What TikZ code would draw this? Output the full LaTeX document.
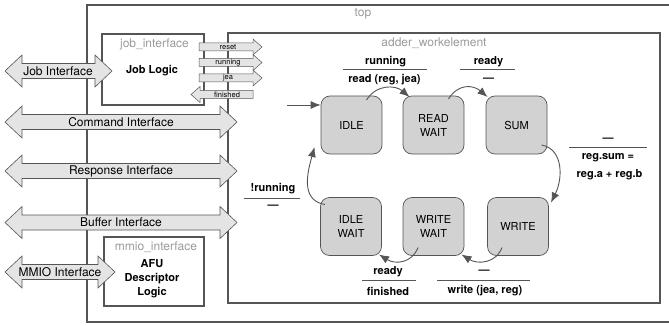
\documentclass[tikz,border=0pt]{standalone}
\usepackage{fontspec}
\setmainfont{TeX Gyre Heros}
\usetikzlibrary{arrows.meta}

\definecolor{edgecol}{HTML}{555555}
\definecolor{ifacefill}{HTML}{E4E4E4}
\definecolor{statefill}{HTML}{D2D2D2}
\definecolor{labelgray}{HTML}{9A9A9A}

% interface arrow with heads on both ends: left tip x, right tip x, centre y
\newcommand\dblarrow[3]{%
  \filldraw[iface] (#1,#3) -- ({#1+17},{#3-16}) -- ({#1+17},{#3-7.5})
    -- ({#2-17},{#3-7.5}) -- ({#2-17},{#3-16}) -- (#2,#3)
    -- ({#2-17},{#3+16}) -- ({#2-17},{#3+7.5}) -- ({#1+17},{#3+7.5})
    -- ({#1+17},{#3+16}) -- cycle;}
% narrow signal arrow: tail x, tip x, centre y (tip may point either way)
\newcommand\sigarrow[3]{%
  \pgfmathsetmacro\hd{(#2>#1)?9:-9}%
  \filldraw[sig] (#1,{#3-4}) -- ({#2-\hd},{#3-4}) -- ({#2-\hd},{#3-8})
    -- (#2,#3) -- ({#2-\hd},{#3+8}) -- ({#2-\hd},{#3+4})
    -- (#1,{#3+4}) -- cycle;}

\begin{document}
\begin{tikzpicture}[x=1pt,y=-1pt,
  box/.style={draw=edgecol, line width=1.1pt},
  iface/.style={draw=edgecol, fill=ifacefill, line width=0.6pt},
  sig/.style={draw=edgecol, fill=ifacefill, line width=0.5pt},
  ifacetext/.style={font=\fontsize{12}{13}\selectfont, inner sep=0pt},
  sigtext/.style={font=\fontsize{7.5}{8}\selectfont, inner sep=0pt},
  blocktitle/.style={font=\fontsize{12}{13}\selectfont, text=labelgray, inner sep=0pt},
  blocktext/.style={font=\fontsize{11}{14}\selectfont\bfseries, align=center, inner sep=0pt},
  state/.style={draw=edgecol, fill=statefill, line width=0.7pt, rounded corners=9pt,
    minimum width=61pt, minimum height=58pt, align=center,
    font=\fontsize{11}{14}\selectfont},
  cond/.style={font=\fontsize{11}{12}\selectfont\bfseries, inner sep=0pt},
  bar/.style={draw=edgecol, line width=0.7pt},
  trans/.style={draw=edgecol, line width=0.9pt, -{Latex[length=10pt,width=8pt]}},
]
\useasboundingbox (0,0) rectangle (669,326);
\begin{scope}
\clip (0,0) rectangle (669,326);

% hierarchy of blocks
\draw[box] (87,5) rectangle (690,322);
\node[blocktitle] (toplbl) at (363,14) {top};
\draw[box] (228,33) rectangle (660,303);
\node[blocktitle] (adderlbl) at (434,43.5) {adder\_workelement};
\draw[box] (102,34) rectangle (204,105);
\node[blocktitle] (joblbl) at (154.5,44.5) {job\_interface};
\node[blocktext] (joblogic) at (152,71) {Job Logic};
\draw[box] (104,237) rectangle (204,306);
\node[blocktitle] (mmiolbl) at (156,247.5) {mmio\_interface};
\node[blocktext] (afu) at (152,279) {AFU\\Descriptor\\Logic};

% external interfaces
\dblarrow{5}{112}{71}
\node[ifacetext] (jobif) at (58,71) {Job Interface};
\dblarrow{5}{237}{122}
\node[ifacetext] (cmdif) at (121,122) {Command Interface};
\dblarrow{5}{237}{171}
\node[ifacetext] (rspif) at (121,171) {Response Interface};
\dblarrow{5}{237}{222.5}
\node[ifacetext] (bufif) at (121,222.5) {Buffer Interface};
\dblarrow{5}{115}{272}
\node[ifacetext] (mmioif) at (60,272) {MMIO Interface};

% signals between job_interface and adder_workelement
\sigarrow{199}{262}{47}
\node[sigtext] (sreset) at (228,47) {reset};
\sigarrow{199}{262}{62.5}
\node[sigtext] (srun) at (228,62.5) {running};
\sigarrow{199}{262}{78}
\node[sigtext] (sjea) at (228,78) {jea};
\sigarrow{253}{191}{94.5}
\node[sigtext] (sfin) at (227,94.5) {finished};

% state machine
\node[state] (idle) at (351.5,125) {IDLE};
\node[state] (readwait) at (433.5,125) {READ\\WAIT};
\node[state] (sum) at (516.5,125) {SUM};
\node[state] (idlewait) at (351,226.5) {IDLE\\WAIT};
\node[state] (writewait) at (433.5,226.5) {WRITE\\WAIT};
\node[state] (write) at (518,226.5) {WRITE};

\coordinate (entry) at (287,105);
\draw[trans] (entry) -- (idle.west |- entry);

\draw[trans] ([shift={(15,-25)}]idle.center) .. controls +(10,-16) and +(-14,-12) .. ([shift={(-24,-28)}]readwait.center);
\draw[trans] ([shift={(15,-26)}]readwait.center) .. controls +(10,-16) and +(-14,-12) .. ([shift={(-29,-28)}]sum.center);
\draw[trans] ([shift={(25,20)}]sum.center) .. controls +(22,4) and +(12,-24) .. ([shift={(33,-24)}]write.center);
\draw[trans] ([shift={(-16,21)}]write.center) .. controls +(-6,16) and +(16,10) .. ([shift={(28,28)}]writewait.center);
\draw[trans] ([shift={(-15.5,21)}]writewait.center) .. controls +(-6,16) and +(16,10) .. ([shift={(28,28)}]idlewait.center);
\draw[trans] ([shift={(-26,-22)}]idlewait.center) .. controls +(-26,-4) and +(-6,22) .. ([shift={(-37,22)}]idle.center);

% transition labels: condition over action
\node[cond] (c1) at (385.5,62) {running};
\draw[bar] (343,69) -- (427,69);
\node[cond] (a1) at (384.5,80) {read (reg, jea)};

\node[cond] (c2) at (488.5,62) {ready};
\draw[bar] (460,69) -- (515,69);
\node[cond] (a2) at (488.5,80) {—};

\node[cond] (c3) at (608,140) {—};
\draw[bar] (569,147) -- (647,147);
\node[cond] (a3) at (608,158) {reg.sum =};
\node[cond] (a3b) at (609.5,175) {reg.a + reg.b};

\node[cond] (c4) at (484,272) {—};
\draw[bar] (437,280) -- (530,280);
\node[cond] (a4) at (485,291) {write (jea, reg)};

\node[cond] (c5) at (388,272) {ready};
\draw[bar] (362,280) -- (416,280);
\node[cond] (a5) at (388,291) {finished};

\node[cond] (c6) at (273,189) {!running};
\draw[bar] (244,198) -- (300,198);
\node[cond] (a6) at (273,207) {—};
\end{scope}
\end{tikzpicture}
\end{document}
